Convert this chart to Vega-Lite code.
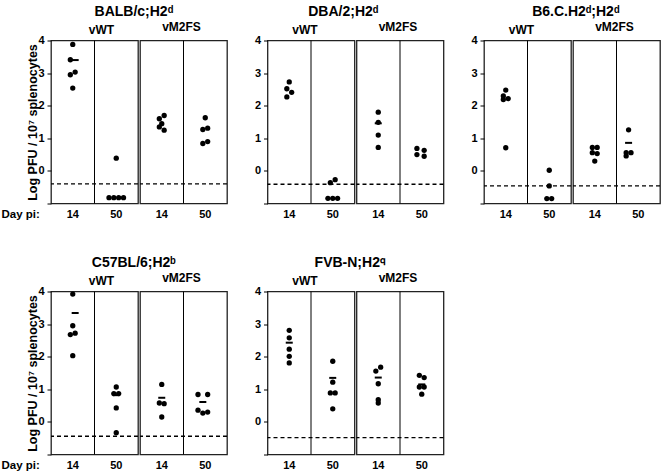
{
"$schema": "https://vega.github.io/schema/vega-lite/v6.json",
"padding": {"left": 0, "top": 4.5, "right": 0, "bottom": 0},
"background": "white",
"datasets": {
"cols": [{"day": "14"}, {"day": "50"}],
"limits": [
{"strain": "BALB/c", "detection_limit": -0.40},
{"strain": "DBA/2", "detection_limit": -0.41},
{"strain": "B6.C", "detection_limit": -0.46},
{"strain": "C57BL/6", "detection_limit": -0.44},
{"strain": "FVB-N", "detection_limit": -0.48}
],
"pts": [
{"strain": "BALB/c", "virus": "vWT", "day": "14", "log_pfu": 3.88, "slot": 0},
{"strain": "BALB/c", "virus": "vWT", "day": "14", "log_pfu": 3.41, "slot": -1},
{"strain": "BALB/c", "virus": "vWT", "day": "14", "log_pfu": 3.03, "slot": 1},
{"strain": "BALB/c", "virus": "vWT", "day": "14", "log_pfu": 2.95, "slot": -1},
{"strain": "BALB/c", "virus": "vWT", "day": "14", "log_pfu": 2.54, "slot": 0},
{"strain": "BALB/c", "virus": "vWT", "day": "50", "log_pfu": 0.39, "slot": 0},
{"strain": "BALB/c", "virus": "vWT", "day": "50", "log_pfu": -0.82, "slot": -3},
{"strain": "BALB/c", "virus": "vWT", "day": "50", "log_pfu": -0.82, "slot": -1},
{"strain": "BALB/c", "virus": "vWT", "day": "50", "log_pfu": -0.82, "slot": 1},
{"strain": "BALB/c", "virus": "vWT", "day": "50", "log_pfu": -0.82, "slot": 3},
{"strain": "BALB/c", "virus": "vM2FS", "day": "14", "log_pfu": 1.70, "slot": 1},
{"strain": "BALB/c", "virus": "vM2FS", "day": "14", "log_pfu": 1.60, "slot": -1},
{"strain": "BALB/c", "virus": "vM2FS", "day": "14", "log_pfu": 1.45, "slot": 0},
{"strain": "BALB/c", "virus": "vM2FS", "day": "14", "log_pfu": 1.35, "slot": -1},
{"strain": "BALB/c", "virus": "vM2FS", "day": "14", "log_pfu": 1.25, "slot": 1},
{"strain": "BALB/c", "virus": "vM2FS", "day": "50", "log_pfu": 1.63, "slot": 0},
{"strain": "BALB/c", "virus": "vM2FS", "day": "50", "log_pfu": 1.31, "slot": 1},
{"strain": "BALB/c", "virus": "vM2FS", "day": "50", "log_pfu": 1.27, "slot": -1},
{"strain": "BALB/c", "virus": "vM2FS", "day": "50", "log_pfu": 0.90, "slot": 1},
{"strain": "BALB/c", "virus": "vM2FS", "day": "50", "log_pfu": 0.84, "slot": -1},
{"strain": "DBA/2", "virus": "vWT", "day": "14", "log_pfu": 2.73, "slot": 0},
{"strain": "DBA/2", "virus": "vWT", "day": "14", "log_pfu": 2.52, "slot": -1},
{"strain": "DBA/2", "virus": "vWT", "day": "14", "log_pfu": 2.41, "slot": 1},
{"strain": "DBA/2", "virus": "vWT", "day": "14", "log_pfu": 2.27, "slot": -1},
{"strain": "DBA/2", "virus": "vWT", "day": "50", "log_pfu": -0.27, "slot": 1},
{"strain": "DBA/2", "virus": "vWT", "day": "50", "log_pfu": -0.36, "slot": -1},
{"strain": "DBA/2", "virus": "vWT", "day": "50", "log_pfu": -0.84, "slot": -2},
{"strain": "DBA/2", "virus": "vWT", "day": "50", "log_pfu": -0.84, "slot": 0},
{"strain": "DBA/2", "virus": "vWT", "day": "50", "log_pfu": -0.84, "slot": 2},
{"strain": "DBA/2", "virus": "vM2FS", "day": "14", "log_pfu": 1.80, "slot": 0},
{"strain": "DBA/2", "virus": "vM2FS", "day": "14", "log_pfu": 1.49, "slot": 0},
{"strain": "DBA/2", "virus": "vM2FS", "day": "14", "log_pfu": 1.10, "slot": 0},
{"strain": "DBA/2", "virus": "vM2FS", "day": "14", "log_pfu": 0.72, "slot": 0},
{"strain": "DBA/2", "virus": "vM2FS", "day": "50", "log_pfu": 0.69, "slot": -2},
{"strain": "DBA/2", "virus": "vM2FS", "day": "50", "log_pfu": 0.63, "slot": 1},
{"strain": "DBA/2", "virus": "vM2FS", "day": "50", "log_pfu": 0.50, "slot": -2},
{"strain": "DBA/2", "virus": "vM2FS", "day": "50", "log_pfu": 0.45, "slot": 1},
{"strain": "B6.C", "virus": "vWT", "day": "14", "log_pfu": 2.48, "slot": 0},
{"strain": "B6.C", "virus": "vWT", "day": "14", "log_pfu": 2.30, "slot": -1},
{"strain": "B6.C", "virus": "vWT", "day": "14", "log_pfu": 2.22, "slot": 1},
{"strain": "B6.C", "virus": "vWT", "day": "14", "log_pfu": 2.19, "slot": -1},
{"strain": "B6.C", "virus": "vWT", "day": "14", "log_pfu": 0.71, "slot": 0},
{"strain": "B6.C", "virus": "vWT", "day": "50", "log_pfu": 0.02, "slot": 0},
{"strain": "B6.C", "virus": "vWT", "day": "50", "log_pfu": -0.46, "slot": 0},
{"strain": "B6.C", "virus": "vWT", "day": "50", "log_pfu": -0.85, "slot": -1},
{"strain": "B6.C", "virus": "vWT", "day": "50", "log_pfu": -0.85, "slot": 1},
{"strain": "B6.C", "virus": "vM2FS", "day": "14", "log_pfu": 0.72, "slot": -1},
{"strain": "B6.C", "virus": "vM2FS", "day": "14", "log_pfu": 0.72, "slot": 1},
{"strain": "B6.C", "virus": "vM2FS", "day": "14", "log_pfu": 0.56, "slot": -1},
{"strain": "B6.C", "virus": "vM2FS", "day": "14", "log_pfu": 0.53, "slot": 1},
{"strain": "B6.C", "virus": "vM2FS", "day": "14", "log_pfu": 0.30, "slot": 0},
{"strain": "B6.C", "virus": "vM2FS", "day": "50", "log_pfu": 1.26, "slot": -4},
{"strain": "B6.C", "virus": "vM2FS", "day": "50", "log_pfu": 0.56, "slot": -5},
{"strain": "B6.C", "virus": "vM2FS", "day": "50", "log_pfu": 0.56, "slot": -3},
{"strain": "B6.C", "virus": "vM2FS", "day": "50", "log_pfu": 0.46, "slot": -5},
{"strain": "C57BL/6", "virus": "vWT", "day": "14", "log_pfu": 3.92, "slot": 0},
{"strain": "C57BL/6", "virus": "vWT", "day": "14", "log_pfu": 2.95, "slot": 0},
{"strain": "C57BL/6", "virus": "vWT", "day": "14", "log_pfu": 2.72, "slot": 1},
{"strain": "C57BL/6", "virus": "vWT", "day": "14", "log_pfu": 2.68, "slot": -1},
{"strain": "C57BL/6", "virus": "vWT", "day": "14", "log_pfu": 2.03, "slot": 0},
{"strain": "C57BL/6", "virus": "vWT", "day": "50", "log_pfu": 1.07, "slot": 0},
{"strain": "C57BL/6", "virus": "vWT", "day": "50", "log_pfu": 0.87, "slot": -1},
{"strain": "C57BL/6", "virus": "vWT", "day": "50", "log_pfu": 0.87, "slot": 1},
{"strain": "C57BL/6", "virus": "vWT", "day": "50", "log_pfu": 0.43, "slot": 0},
{"strain": "C57BL/6", "virus": "vWT", "day": "50", "log_pfu": -0.33, "slot": 0},
{"strain": "C57BL/6", "virus": "vM2FS", "day": "14", "log_pfu": 1.15, "slot": 0},
{"strain": "C57BL/6", "virus": "vM2FS", "day": "14", "log_pfu": 0.58, "slot": -1},
{"strain": "C57BL/6", "virus": "vM2FS", "day": "14", "log_pfu": 0.56, "slot": 1},
{"strain": "C57BL/6", "virus": "vM2FS", "day": "14", "log_pfu": 0.15, "slot": 0},
{"strain": "C57BL/6", "virus": "vM2FS", "day": "50", "log_pfu": 0.84, "slot": -3},
{"strain": "C57BL/6", "virus": "vM2FS", "day": "50", "log_pfu": 0.84, "slot": 1},
{"strain": "C57BL/6", "virus": "vM2FS", "day": "50", "log_pfu": 0.36, "slot": -3},
{"strain": "C57BL/6", "virus": "vM2FS", "day": "50", "log_pfu": 0.27, "slot": -1},
{"strain": "C57BL/6", "virus": "vM2FS", "day": "50", "log_pfu": 0.30, "slot": 1},
{"strain": "FVB-N", "virus": "vWT", "day": "14", "log_pfu": 2.81, "slot": 0},
{"strain": "FVB-N", "virus": "vWT", "day": "14", "log_pfu": 2.58, "slot": 0},
{"strain": "FVB-N", "virus": "vWT", "day": "14", "log_pfu": 2.23, "slot": 0},
{"strain": "FVB-N", "virus": "vWT", "day": "14", "log_pfu": 2.01, "slot": 0},
{"strain": "FVB-N", "virus": "vWT", "day": "14", "log_pfu": 1.81, "slot": 0},
{"strain": "FVB-N", "virus": "vWT", "day": "50", "log_pfu": 1.86, "slot": 0},
{"strain": "FVB-N", "virus": "vWT", "day": "50", "log_pfu": 1.22, "slot": 0},
{"strain": "FVB-N", "virus": "vWT", "day": "50", "log_pfu": 0.89, "slot": -1},
{"strain": "FVB-N", "virus": "vWT", "day": "50", "log_pfu": 0.89, "slot": 1},
{"strain": "FVB-N", "virus": "vWT", "day": "50", "log_pfu": 0.40, "slot": 0},
{"strain": "FVB-N", "virus": "vM2FS", "day": "14", "log_pfu": 1.68, "slot": 1},
{"strain": "FVB-N", "virus": "vM2FS", "day": "14", "log_pfu": 1.56, "slot": -1},
{"strain": "FVB-N", "virus": "vM2FS", "day": "14", "log_pfu": 1.17, "slot": 0},
{"strain": "FVB-N", "virus": "vM2FS", "day": "14", "log_pfu": 0.68, "slot": 0},
{"strain": "FVB-N", "virus": "vM2FS", "day": "14", "log_pfu": 0.58, "slot": 0},
{"strain": "FVB-N", "virus": "vM2FS", "day": "50", "log_pfu": 1.43, "slot": -1},
{"strain": "FVB-N", "virus": "vM2FS", "day": "50", "log_pfu": 1.36, "slot": 1},
{"strain": "FVB-N", "virus": "vM2FS", "day": "50", "log_pfu": 1.07, "slot": -1},
{"strain": "FVB-N", "virus": "vM2FS", "day": "50", "log_pfu": 1.07, "slot": 1},
{"strain": "FVB-N", "virus": "vM2FS", "day": "50", "log_pfu": 0.85, "slot": 0}
],
"means": [
{"strain": "BALB/c", "virus": "vWT", "day": "14", "mean_log_pfu": 3.40, "slot": 1},
{"strain": "DBA/2", "virus": "vM2FS", "day": "14", "mean_log_pfu": 1.46, "slot": 0},
{"strain": "B6.C", "virus": "vM2FS", "day": "50", "mean_log_pfu": 0.86, "slot": -4},
{"strain": "C57BL/6", "virus": "vWT", "day": "14", "mean_log_pfu": 3.34, "slot": 1},
{"strain": "C57BL/6", "virus": "vWT", "day": "50", "mean_log_pfu": 0.82, "slot": 0},
{"strain": "C57BL/6", "virus": "vM2FS", "day": "14", "mean_log_pfu": 0.74, "slot": 0},
{"strain": "C57BL/6", "virus": "vM2FS", "day": "50", "mean_log_pfu": 0.61, "slot": -1},
{"strain": "FVB-N", "virus": "vWT", "day": "14", "mean_log_pfu": 2.43, "slot": 0},
{"strain": "FVB-N", "virus": "vWT", "day": "50", "mean_log_pfu": 1.35, "slot": 0},
{"strain": "FVB-N", "virus": "vM2FS", "day": "14", "mean_log_pfu": 1.36, "slot": 0},
{"strain": "FVB-N", "virus": "vM2FS", "day": "50", "mean_log_pfu": 1.15, "slot": 0}
]
},
"spacing": 34,
"vconcat": [
{"spacing": 24.5, "hconcat": [
{"title": {"text": "BALB/c;H2ᵈ", "fontSize": 14, "anchor": "middle", "dx": 19.5, "offset": 1.5}, "spacing": -6, "hconcat": [
{"width": 87, "height": 163, "title": {"text": "vWT", "dx": 7, "offset": -2}, "layer": [
{"data": {"name": "limits"}, "transform": [{"filter": "datum.strain === 'BALB/c'"}], "mark": {"type": "rule", "strokeDash": [4, 3], "strokeWidth": 1.3, "color": "#000"}, "encoding": {"y": {"field": "detection_limit", "type": "quantitative", "scale": {"domain": [-1, 4], "nice": false, "zero": false}, "axis": {"title": "Log PFU / 10⁷ splenocytes", "values": [-1, 0, 1, 2, 3, 4], "labelExpr": "datum.value < 0 ? '' : datum.label"}}}},
{"data": {"name": "cols"}, "transform": [{"filter": "datum.day === '50'"}], "mark": {"type": "rule", "color": "#000", "strokeWidth": 1}, "encoding": {"x": {"field": "day", "type": "ordinal", "bandPosition": 0, "scale": {"domain": ["14", "50"], "paddingInner": 0, "paddingOuter": 0}, "axis": {"title": "Day pi:", "titleAngle": 0, "titleAlign": "left", "titleBaseline": "middle", "titleX": -50, "titleY": 11, "titleFontSize": 11.5}}}},
{"data": {"name": "pts"}, "transform": [{"filter": "datum.strain === 'BALB/c' && datum.virus === 'vWT'"}], "mark": {"type": "circle", "size": 28, "opacity": 1, "color": "#000"}, "encoding": {"x": {"field": "day", "type": "ordinal", "scale": {"domain": ["14", "50"], "paddingInner": 0, "paddingOuter": 0}, "axis": {"title": "Day pi:", "titleAngle": 0, "titleAlign": "left", "titleBaseline": "middle", "titleX": -50, "titleY": 11, "titleFontSize": 11.5}}, "xOffset": {"field": "slot", "type": "quantitative", "scale": {"domain": [-9, 9]}}, "y": {"field": "log_pfu", "type": "quantitative", "scale": {"domain": [-1, 4], "nice": false, "zero": false}, "axis": {"title": "Log PFU / 10⁷ splenocytes", "values": [-1, 0, 1, 2, 3, 4], "labelExpr": "datum.value < 0 ? '' : datum.label"}}}},
{"data": {"name": "means"}, "transform": [{"filter": "datum.strain === 'BALB/c' && datum.virus === 'vWT'"}], "mark": {"type": "tick", "orient": "horizontal", "size": 7, "thickness": 2, "opacity": 1, "color": "#000"}, "encoding": {"x": {"field": "day", "type": "ordinal", "scale": {"domain": ["14", "50"], "paddingInner": 0, "paddingOuter": 0}, "axis": {"title": "Day pi:", "titleAngle": 0, "titleAlign": "left", "titleBaseline": "middle", "titleX": -50, "titleY": 11, "titleFontSize": 11.5}}, "xOffset": {"field": "slot", "type": "quantitative", "scale": {"domain": [-9, 9]}}, "y": {"field": "mean_log_pfu", "type": "quantitative", "scale": {"domain": [-1, 4], "nice": false, "zero": false}, "axis": {"title": "Log PFU / 10⁷ splenocytes", "values": [-1, 0, 1, 2, 3, 4], "labelExpr": "datum.value < 0 ? '' : datum.label"}}}}
]},
{"width": 87, "height": 163, "title": {"text": "vM2FS", "dx": -2, "offset": 6}, "layer": [
{"data": {"name": "limits"}, "transform": [{"filter": "datum.strain === 'BALB/c'"}], "mark": {"type": "rule", "strokeDash": [4, 3], "strokeWidth": 1.3, "color": "#000"}, "encoding": {"y": {"field": "detection_limit", "type": "quantitative", "scale": {"domain": [-1, 4], "nice": false, "zero": false}, "axis": null}}},
{"data": {"name": "cols"}, "transform": [{"filter": "datum.day === '50'"}], "mark": {"type": "rule", "color": "#000", "strokeWidth": 1}, "encoding": {"x": {"field": "day", "type": "ordinal", "bandPosition": 0, "scale": {"domain": ["14", "50"], "paddingInner": 0, "paddingOuter": 0}, "axis": {"title": null}}}},
{"data": {"name": "pts"}, "transform": [{"filter": "datum.strain === 'BALB/c' && datum.virus === 'vM2FS'"}], "mark": {"type": "circle", "size": 28, "opacity": 1, "color": "#000"}, "encoding": {"x": {"field": "day", "type": "ordinal", "scale": {"domain": ["14", "50"], "paddingInner": 0, "paddingOuter": 0}, "axis": {"title": null}}, "xOffset": {"field": "slot", "type": "quantitative", "scale": {"domain": [-9, 9]}}, "y": {"field": "log_pfu", "type": "quantitative", "scale": {"domain": [-1, 4], "nice": false, "zero": false}, "axis": null}}},
{"data": {"name": "means"}, "transform": [{"filter": "datum.strain === 'BALB/c' && datum.virus === 'vM2FS'"}], "mark": {"type": "tick", "orient": "horizontal", "size": 7, "thickness": 2, "opacity": 1, "color": "#000"}, "encoding": {"x": {"field": "day", "type": "ordinal", "scale": {"domain": ["14", "50"], "paddingInner": 0, "paddingOuter": 0}, "axis": {"title": null}}, "xOffset": {"field": "slot", "type": "quantitative", "scale": {"domain": [-9, 9]}}, "y": {"field": "mean_log_pfu", "type": "quantitative", "scale": {"domain": [-1, 4], "nice": false, "zero": false}, "axis": null}}}
]}
]},
{"title": {"text": "DBA/2;H2ᵈ", "fontSize": 14, "anchor": "middle", "dx": -6, "offset": 1.5}, "spacing": -6, "hconcat": [
{"width": 87, "height": 163, "title": {"text": "vWT", "dx": -6, "offset": -2}, "layer": [
{"data": {"name": "limits"}, "transform": [{"filter": "datum.strain === 'DBA/2'"}], "mark": {"type": "rule", "strokeDash": [4, 3], "strokeWidth": 1.3, "color": "#000"}, "encoding": {"y": {"field": "detection_limit", "type": "quantitative", "scale": {"domain": [-1, 4], "nice": false, "zero": false}, "axis": {"title": null, "values": [-1, 0, 1, 2, 3, 4], "labelExpr": "datum.value < 0 ? '' : datum.label"}}}},
{"data": {"name": "cols"}, "transform": [{"filter": "datum.day === '50'"}], "mark": {"type": "rule", "color": "#000", "strokeWidth": 1}, "encoding": {"x": {"field": "day", "type": "ordinal", "bandPosition": 0, "scale": {"domain": ["14", "50"], "paddingInner": 0, "paddingOuter": 0}, "axis": {"title": null}}}},
{"data": {"name": "pts"}, "transform": [{"filter": "datum.strain === 'DBA/2' && datum.virus === 'vWT'"}], "mark": {"type": "circle", "size": 28, "opacity": 1, "color": "#000"}, "encoding": {"x": {"field": "day", "type": "ordinal", "scale": {"domain": ["14", "50"], "paddingInner": 0, "paddingOuter": 0}, "axis": {"title": null}}, "xOffset": {"field": "slot", "type": "quantitative", "scale": {"domain": [-9, 9]}}, "y": {"field": "log_pfu", "type": "quantitative", "scale": {"domain": [-1, 4], "nice": false, "zero": false}, "axis": {"title": null, "values": [-1, 0, 1, 2, 3, 4], "labelExpr": "datum.value < 0 ? '' : datum.label"}}}},
{"data": {"name": "means"}, "transform": [{"filter": "datum.strain === 'DBA/2' && datum.virus === 'vWT'"}], "mark": {"type": "tick", "orient": "horizontal", "size": 7, "thickness": 2, "opacity": 1, "color": "#000"}, "encoding": {"x": {"field": "day", "type": "ordinal", "scale": {"domain": ["14", "50"], "paddingInner": 0, "paddingOuter": 0}, "axis": {"title": null}}, "xOffset": {"field": "slot", "type": "quantitative", "scale": {"domain": [-9, 9]}}, "y": {"field": "mean_log_pfu", "type": "quantitative", "scale": {"domain": [-1, 4], "nice": false, "zero": false}, "axis": {"title": null, "values": [-1, 0, 1, 2, 3, 4], "labelExpr": "datum.value < 0 ? '' : datum.label"}}}}
]},
{"width": 87, "height": 163, "title": {"text": "vM2FS", "dx": -2, "offset": 6}, "layer": [
{"data": {"name": "limits"}, "transform": [{"filter": "datum.strain === 'DBA/2'"}], "mark": {"type": "rule", "strokeDash": [4, 3], "strokeWidth": 1.3, "color": "#000"}, "encoding": {"y": {"field": "detection_limit", "type": "quantitative", "scale": {"domain": [-1, 4], "nice": false, "zero": false}, "axis": null}}},
{"data": {"name": "cols"}, "transform": [{"filter": "datum.day === '50'"}], "mark": {"type": "rule", "color": "#000", "strokeWidth": 1}, "encoding": {"x": {"field": "day", "type": "ordinal", "bandPosition": 0, "scale": {"domain": ["14", "50"], "paddingInner": 0, "paddingOuter": 0}, "axis": {"title": null}}}},
{"data": {"name": "pts"}, "transform": [{"filter": "datum.strain === 'DBA/2' && datum.virus === 'vM2FS'"}], "mark": {"type": "circle", "size": 28, "opacity": 1, "color": "#000"}, "encoding": {"x": {"field": "day", "type": "ordinal", "scale": {"domain": ["14", "50"], "paddingInner": 0, "paddingOuter": 0}, "axis": {"title": null}}, "xOffset": {"field": "slot", "type": "quantitative", "scale": {"domain": [-9, 9]}}, "y": {"field": "log_pfu", "type": "quantitative", "scale": {"domain": [-1, 4], "nice": false, "zero": false}, "axis": null}}},
{"data": {"name": "means"}, "transform": [{"filter": "datum.strain === 'DBA/2' && datum.virus === 'vM2FS'"}], "mark": {"type": "tick", "orient": "horizontal", "size": 7, "thickness": 2, "opacity": 1, "color": "#000"}, "encoding": {"x": {"field": "day", "type": "ordinal", "scale": {"domain": ["14", "50"], "paddingInner": 0, "paddingOuter": 0}, "axis": {"title": null}}, "xOffset": {"field": "slot", "type": "quantitative", "scale": {"domain": [-9, 9]}}, "y": {"field": "mean_log_pfu", "type": "quantitative", "scale": {"domain": [-1, 4], "nice": false, "zero": false}, "axis": null}}}
]}
]},
{"title": {"text": "B6.C.H2ᵈ;H2ᵈ", "fontSize": 14, "anchor": "middle", "dx": 10, "offset": 1.5}, "spacing": -6, "hconcat": [
{"width": 87, "height": 163, "title": {"text": "vWT", "dx": -6, "offset": -2}, "layer": [
{"data": {"name": "limits"}, "transform": [{"filter": "datum.strain === 'B6.C'"}], "mark": {"type": "rule", "strokeDash": [4, 3], "strokeWidth": 1.3, "color": "#000"}, "encoding": {"y": {"field": "detection_limit", "type": "quantitative", "scale": {"domain": [-1, 4], "nice": false, "zero": false}, "axis": {"title": null, "values": [-1, 0, 1, 2, 3, 4], "labelExpr": "datum.value < 0 ? '' : datum.label"}}}},
{"data": {"name": "cols"}, "transform": [{"filter": "datum.day === '50'"}], "mark": {"type": "rule", "color": "#000", "strokeWidth": 1}, "encoding": {"x": {"field": "day", "type": "ordinal", "bandPosition": 0, "scale": {"domain": ["14", "50"], "paddingInner": 0, "paddingOuter": 0}, "axis": {"title": null}}}},
{"data": {"name": "pts"}, "transform": [{"filter": "datum.strain === 'B6.C' && datum.virus === 'vWT'"}], "mark": {"type": "circle", "size": 28, "opacity": 1, "color": "#000"}, "encoding": {"x": {"field": "day", "type": "ordinal", "scale": {"domain": ["14", "50"], "paddingInner": 0, "paddingOuter": 0}, "axis": {"title": null}}, "xOffset": {"field": "slot", "type": "quantitative", "scale": {"domain": [-9, 9]}}, "y": {"field": "log_pfu", "type": "quantitative", "scale": {"domain": [-1, 4], "nice": false, "zero": false}, "axis": {"title": null, "values": [-1, 0, 1, 2, 3, 4], "labelExpr": "datum.value < 0 ? '' : datum.label"}}}},
{"data": {"name": "means"}, "transform": [{"filter": "datum.strain === 'B6.C' && datum.virus === 'vWT'"}], "mark": {"type": "tick", "orient": "horizontal", "size": 7, "thickness": 2, "opacity": 1, "color": "#000"}, "encoding": {"x": {"field": "day", "type": "ordinal", "scale": {"domain": ["14", "50"], "paddingInner": 0, "paddingOuter": 0}, "axis": {"title": null}}, "xOffset": {"field": "slot", "type": "quantitative", "scale": {"domain": [-9, 9]}}, "y": {"field": "mean_log_pfu", "type": "quantitative", "scale": {"domain": [-1, 4], "nice": false, "zero": false}, "axis": {"title": null, "values": [-1, 0, 1, 2, 3, 4], "labelExpr": "datum.value < 0 ? '' : datum.label"}}}}
]},
{"width": 87, "height": 163, "title": {"text": "vM2FS", "dx": -2, "offset": 6}, "layer": [
{"data": {"name": "limits"}, "transform": [{"filter": "datum.strain === 'B6.C'"}], "mark": {"type": "rule", "strokeDash": [4, 3], "strokeWidth": 1.3, "color": "#000"}, "encoding": {"y": {"field": "detection_limit", "type": "quantitative", "scale": {"domain": [-1, 4], "nice": false, "zero": false}, "axis": null}}},
{"data": {"name": "cols"}, "transform": [{"filter": "datum.day === '50'"}], "mark": {"type": "rule", "color": "#000", "strokeWidth": 1}, "encoding": {"x": {"field": "day", "type": "ordinal", "bandPosition": 0, "scale": {"domain": ["14", "50"], "paddingInner": 0, "paddingOuter": 0}, "axis": {"title": null}}}},
{"data": {"name": "pts"}, "transform": [{"filter": "datum.strain === 'B6.C' && datum.virus === 'vM2FS'"}], "mark": {"type": "circle", "size": 28, "opacity": 1, "color": "#000"}, "encoding": {"x": {"field": "day", "type": "ordinal", "scale": {"domain": ["14", "50"], "paddingInner": 0, "paddingOuter": 0}, "axis": {"title": null}}, "xOffset": {"field": "slot", "type": "quantitative", "scale": {"domain": [-9, 9]}}, "y": {"field": "log_pfu", "type": "quantitative", "scale": {"domain": [-1, 4], "nice": false, "zero": false}, "axis": null}}},
{"data": {"name": "means"}, "transform": [{"filter": "datum.strain === 'B6.C' && datum.virus === 'vM2FS'"}], "mark": {"type": "tick", "orient": "horizontal", "size": 7, "thickness": 2, "opacity": 1, "color": "#000"}, "encoding": {"x": {"field": "day", "type": "ordinal", "scale": {"domain": ["14", "50"], "paddingInner": 0, "paddingOuter": 0}, "axis": {"title": null}}, "xOffset": {"field": "slot", "type": "quantitative", "scale": {"domain": [-9, 9]}}, "y": {"field": "mean_log_pfu", "type": "quantitative", "scale": {"domain": [-1, 4], "nice": false, "zero": false}, "axis": null}}}
]}
]}
]},
{"spacing": 24.5, "hconcat": [
{"title": {"text": "C57BL/6;H2ᵇ", "fontSize": 14, "anchor": "middle", "dx": 19.5, "offset": 1.5}, "spacing": -6, "hconcat": [
{"width": 87, "height": 163, "title": {"text": "vWT", "dx": 7, "offset": -2}, "layer": [
{"data": {"name": "limits"}, "transform": [{"filter": "datum.strain === 'C57BL/6'"}], "mark": {"type": "rule", "strokeDash": [4, 3], "strokeWidth": 1.3, "color": "#000"}, "encoding": {"y": {"field": "detection_limit", "type": "quantitative", "scale": {"domain": [-1, 4], "nice": false, "zero": false}, "axis": {"title": "Log PFU / 10⁷ splenocytes", "values": [-1, 0, 1, 2, 3, 4], "labelExpr": "datum.value < 0 ? '' : datum.label"}}}},
{"data": {"name": "cols"}, "transform": [{"filter": "datum.day === '50'"}], "mark": {"type": "rule", "color": "#000", "strokeWidth": 1}, "encoding": {"x": {"field": "day", "type": "ordinal", "bandPosition": 0, "scale": {"domain": ["14", "50"], "paddingInner": 0, "paddingOuter": 0}, "axis": {"title": "Day pi:", "titleAngle": 0, "titleAlign": "left", "titleBaseline": "middle", "titleX": -50, "titleY": 11, "titleFontSize": 11.5}}}},
{"data": {"name": "pts"}, "transform": [{"filter": "datum.strain === 'C57BL/6' && datum.virus === 'vWT'"}], "mark": {"type": "circle", "size": 28, "opacity": 1, "color": "#000"}, "encoding": {"x": {"field": "day", "type": "ordinal", "scale": {"domain": ["14", "50"], "paddingInner": 0, "paddingOuter": 0}, "axis": {"title": "Day pi:", "titleAngle": 0, "titleAlign": "left", "titleBaseline": "middle", "titleX": -50, "titleY": 11, "titleFontSize": 11.5}}, "xOffset": {"field": "slot", "type": "quantitative", "scale": {"domain": [-9, 9]}}, "y": {"field": "log_pfu", "type": "quantitative", "scale": {"domain": [-1, 4], "nice": false, "zero": false}, "axis": {"title": "Log PFU / 10⁷ splenocytes", "values": [-1, 0, 1, 2, 3, 4], "labelExpr": "datum.value < 0 ? '' : datum.label"}}}},
{"data": {"name": "means"}, "transform": [{"filter": "datum.strain === 'C57BL/6' && datum.virus === 'vWT'"}], "mark": {"type": "tick", "orient": "horizontal", "size": 7, "thickness": 2, "opacity": 1, "color": "#000"}, "encoding": {"x": {"field": "day", "type": "ordinal", "scale": {"domain": ["14", "50"], "paddingInner": 0, "paddingOuter": 0}, "axis": {"title": "Day pi:", "titleAngle": 0, "titleAlign": "left", "titleBaseline": "middle", "titleX": -50, "titleY": 11, "titleFontSize": 11.5}}, "xOffset": {"field": "slot", "type": "quantitative", "scale": {"domain": [-9, 9]}}, "y": {"field": "mean_log_pfu", "type": "quantitative", "scale": {"domain": [-1, 4], "nice": false, "zero": false}, "axis": {"title": "Log PFU / 10⁷ splenocytes", "values": [-1, 0, 1, 2, 3, 4], "labelExpr": "datum.value < 0 ? '' : datum.label"}}}}
]},
{"width": 87, "height": 163, "title": {"text": "vM2FS", "dx": -2, "offset": 6}, "layer": [
{"data": {"name": "limits"}, "transform": [{"filter": "datum.strain === 'C57BL/6'"}], "mark": {"type": "rule", "strokeDash": [4, 3], "strokeWidth": 1.3, "color": "#000"}, "encoding": {"y": {"field": "detection_limit", "type": "quantitative", "scale": {"domain": [-1, 4], "nice": false, "zero": false}, "axis": null}}},
{"data": {"name": "cols"}, "transform": [{"filter": "datum.day === '50'"}], "mark": {"type": "rule", "color": "#000", "strokeWidth": 1}, "encoding": {"x": {"field": "day", "type": "ordinal", "bandPosition": 0, "scale": {"domain": ["14", "50"], "paddingInner": 0, "paddingOuter": 0}, "axis": {"title": null}}}},
{"data": {"name": "pts"}, "transform": [{"filter": "datum.strain === 'C57BL/6' && datum.virus === 'vM2FS'"}], "mark": {"type": "circle", "size": 28, "opacity": 1, "color": "#000"}, "encoding": {"x": {"field": "day", "type": "ordinal", "scale": {"domain": ["14", "50"], "paddingInner": 0, "paddingOuter": 0}, "axis": {"title": null}}, "xOffset": {"field": "slot", "type": "quantitative", "scale": {"domain": [-9, 9]}}, "y": {"field": "log_pfu", "type": "quantitative", "scale": {"domain": [-1, 4], "nice": false, "zero": false}, "axis": null}}},
{"data": {"name": "means"}, "transform": [{"filter": "datum.strain === 'C57BL/6' && datum.virus === 'vM2FS'"}], "mark": {"type": "tick", "orient": "horizontal", "size": 7, "thickness": 2, "opacity": 1, "color": "#000"}, "encoding": {"x": {"field": "day", "type": "ordinal", "scale": {"domain": ["14", "50"], "paddingInner": 0, "paddingOuter": 0}, "axis": {"title": null}}, "xOffset": {"field": "slot", "type": "quantitative", "scale": {"domain": [-9, 9]}}, "y": {"field": "mean_log_pfu", "type": "quantitative", "scale": {"domain": [-1, 4], "nice": false, "zero": false}, "axis": null}}}
]}
]},
{"title": {"text": "FVB-N;H2𐞥", "fontSize": 14, "anchor": "middle", "dx": 1, "offset": 1.5}, "spacing": -6, "hconcat": [
{"width": 87, "height": 163, "title": {"text": "vWT", "dx": -6, "offset": -2}, "layer": [
{"data": {"name": "limits"}, "transform": [{"filter": "datum.strain === 'FVB-N'"}], "mark": {"type": "rule", "strokeDash": [4, 3], "strokeWidth": 1.3, "color": "#000"}, "encoding": {"y": {"field": "detection_limit", "type": "quantitative", "scale": {"domain": [-1, 4], "nice": false, "zero": false}, "axis": {"title": null, "values": [-1, 0, 1, 2, 3, 4], "labelExpr": "datum.value < 0 ? '' : datum.label"}}}},
{"data": {"name": "cols"}, "transform": [{"filter": "datum.day === '50'"}], "mark": {"type": "rule", "color": "#000", "strokeWidth": 1}, "encoding": {"x": {"field": "day", "type": "ordinal", "bandPosition": 0, "scale": {"domain": ["14", "50"], "paddingInner": 0, "paddingOuter": 0}, "axis": {"title": null}}}},
{"data": {"name": "pts"}, "transform": [{"filter": "datum.strain === 'FVB-N' && datum.virus === 'vWT'"}], "mark": {"type": "circle", "size": 28, "opacity": 1, "color": "#000"}, "encoding": {"x": {"field": "day", "type": "ordinal", "scale": {"domain": ["14", "50"], "paddingInner": 0, "paddingOuter": 0}, "axis": {"title": null}}, "xOffset": {"field": "slot", "type": "quantitative", "scale": {"domain": [-9, 9]}}, "y": {"field": "log_pfu", "type": "quantitative", "scale": {"domain": [-1, 4], "nice": false, "zero": false}, "axis": {"title": null, "values": [-1, 0, 1, 2, 3, 4], "labelExpr": "datum.value < 0 ? '' : datum.label"}}}},
{"data": {"name": "means"}, "transform": [{"filter": "datum.strain === 'FVB-N' && datum.virus === 'vWT'"}], "mark": {"type": "tick", "orient": "horizontal", "size": 7, "thickness": 2, "opacity": 1, "color": "#000"}, "encoding": {"x": {"field": "day", "type": "ordinal", "scale": {"domain": ["14", "50"], "paddingInner": 0, "paddingOuter": 0}, "axis": {"title": null}}, "xOffset": {"field": "slot", "type": "quantitative", "scale": {"domain": [-9, 9]}}, "y": {"field": "mean_log_pfu", "type": "quantitative", "scale": {"domain": [-1, 4], "nice": false, "zero": false}, "axis": {"title": null, "values": [-1, 0, 1, 2, 3, 4], "labelExpr": "datum.value < 0 ? '' : datum.label"}}}}
]},
{"width": 87, "height": 163, "title": {"text": "vM2FS", "dx": -2, "offset": 6}, "layer": [
{"data": {"name": "limits"}, "transform": [{"filter": "datum.strain === 'FVB-N'"}], "mark": {"type": "rule", "strokeDash": [4, 3], "strokeWidth": 1.3, "color": "#000"}, "encoding": {"y": {"field": "detection_limit", "type": "quantitative", "scale": {"domain": [-1, 4], "nice": false, "zero": false}, "axis": null}}},
{"data": {"name": "cols"}, "transform": [{"filter": "datum.day === '50'"}], "mark": {"type": "rule", "color": "#000", "strokeWidth": 1}, "encoding": {"x": {"field": "day", "type": "ordinal", "bandPosition": 0, "scale": {"domain": ["14", "50"], "paddingInner": 0, "paddingOuter": 0}, "axis": {"title": null}}}},
{"data": {"name": "pts"}, "transform": [{"filter": "datum.strain === 'FVB-N' && datum.virus === 'vM2FS'"}], "mark": {"type": "circle", "size": 28, "opacity": 1, "color": "#000"}, "encoding": {"x": {"field": "day", "type": "ordinal", "scale": {"domain": ["14", "50"], "paddingInner": 0, "paddingOuter": 0}, "axis": {"title": null}}, "xOffset": {"field": "slot", "type": "quantitative", "scale": {"domain": [-9, 9]}}, "y": {"field": "log_pfu", "type": "quantitative", "scale": {"domain": [-1, 4], "nice": false, "zero": false}, "axis": null}}},
{"data": {"name": "means"}, "transform": [{"filter": "datum.strain === 'FVB-N' && datum.virus === 'vM2FS'"}], "mark": {"type": "tick", "orient": "horizontal", "size": 7, "thickness": 2, "opacity": 1, "color": "#000"}, "encoding": {"x": {"field": "day", "type": "ordinal", "scale": {"domain": ["14", "50"], "paddingInner": 0, "paddingOuter": 0}, "axis": {"title": null}}, "xOffset": {"field": "slot", "type": "quantitative", "scale": {"domain": [-9, 9]}}, "y": {"field": "mean_log_pfu", "type": "quantitative", "scale": {"domain": [-1, 4], "nice": false, "zero": false}, "axis": null}}}
]}
]}
]}
],
"config": {
"font": "Liberation Sans",
"view": {"stroke": "#222", "strokeWidth": 1.3},
"title": {"font": "Liberation Sans", "fontWeight": "bold", "fontSize": 12, "baseline": "alphabetic", "offset": 0, "color": "#000"},
"axis": {"labelFont": "Liberation Sans", "titleFont": "Liberation Sans", "labelFontWeight": "bold", "titleFontWeight": "bold", "labelColor": "#000", "titleColor": "#000", "grid": false, "domain": false},
"axisX": {"ticks": false, "labelAngle": 0, "labelPadding": 5, "labelFontSize": 11},
"axisY": {"tickSize": 4, "tickColor": "#000", "tickWidth": 1, "labelPadding": 3, "labelFontSize": 11, "titleFontSize": 12.5, "titlePadding": -2}
}
}
